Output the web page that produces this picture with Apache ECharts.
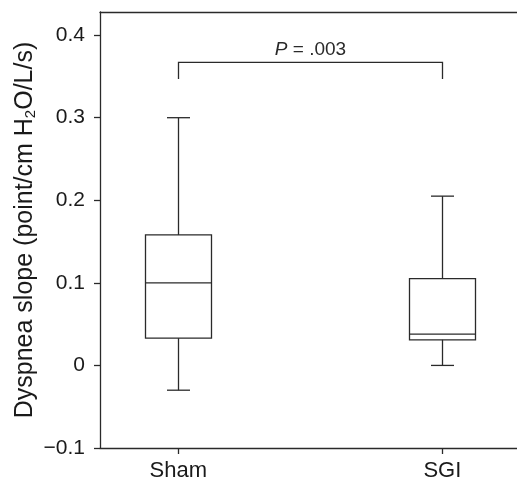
<!DOCTYPE html>
<html>
<head>
<meta charset="utf-8">
<script src="https://cdn.jsdelivr.net/npm/echarts@6/dist/echarts.min.js"></script>
<style>
html,body{margin:0;padding:0;background:#fff;}
#chart{width:517px;height:482px;}
</style>
</head>
<body>
<div id="chart"></div>
<script>
// ---- data ----
const categories = ['Sham', 'SGI'];
const positions = [1, 2];
const whiskerLow = [-0.03, 0.0];
const q1 = [0.033, 0.031];
const median = [0.100, 0.038];
const q3 = [0.158, 0.105];
const whiskerHigh = [0.300, 0.205];
const yTicks = [-0.1, 0, 0.1, 0.2, 0.3, 0.4];
const pValueText = '{i|P} = .003';
const bracketLevel = 0.367;
const bracketLegEnd = 0.347;

const FONT = '"Liberation Sans", Arial, Helvetica, sans-serif';
const INK = '#2a2a2a';

const boxData = positions.map((p, i) => [p, whiskerLow[i], q1[i], median[i], q3[i], whiskerHigh[i]]);

function renderBox(params, api) {
  const x = api.value(0);
  const lo = api.coord([x, api.value(1)]);
  const b1 = api.coord([x, api.value(2)]);
  const md = api.coord([x, api.value(3)]);
  const b3 = api.coord([x, api.value(4)]);
  const hi = api.coord([x, api.value(5)]);
  const cx = Math.round(lo[0]) + 0.5;
  const halfBox = 33, halfCap = 11.5;
  const st = {stroke: INK, lineWidth: 1.3, fill: null};
  return {
    type: 'group',
    children: [
      {type: 'rect', shape: {x: cx - halfBox, y: b3[1], width: 2 * halfBox, height: b1[1] - b3[1]}, style: {stroke: INK, lineWidth: 1.3, fill: '#fff'}},
      {type: 'line', shape: {x1: cx - halfBox, y1: md[1], x2: cx + halfBox, y2: md[1]}, style: st},
      {type: 'line', shape: {x1: cx, y1: b3[1], x2: cx, y2: hi[1]}, style: st},
      {type: 'line', shape: {x1: cx, y1: b1[1], x2: cx, y2: lo[1]}, style: st},
      {type: 'line', shape: {x1: cx - halfCap, y1: hi[1], x2: cx + halfCap, y2: hi[1]}, style: st},
      {type: 'line', shape: {x1: cx - halfCap, y1: lo[1], x2: cx + halfCap, y2: lo[1]}, style: st}
    ]
  };
}

function renderBracket(params, api) {
  const a = api.coord([positions[0], bracketLevel]);
  const b = api.coord([positions[1], bracketLevel]);
  const a2 = api.coord([positions[0], bracketLegEnd]);
  const b2 = api.coord([positions[1], bracketLegEnd]);
  const ax = Math.round(a[0]) + 0.5, bx = Math.round(b[0]) + 0.5;
  const st = {stroke: INK, lineWidth: 1.3, fill: null};
  return {
    type: 'group',
    children: [
      {type: 'polyline', shape: {points: [[ax, a2[1]], [ax, a[1]], [bx, b[1]], [bx, b2[1]]]}, style: st},
      {type: 'text', x: (ax + bx) / 2, y: a[1] - 3,
        style: {text: pValueText, align: 'center', verticalAlign: 'bottom', fill: INK,
          fontSize: 19, fontFamily: FONT,
          rich: {i: {fontStyle: 'italic', fontSize: 19, fontFamily: FONT, fill: INK}}}}
    ]
  };
}

const chart = echarts.init(document.getElementById('chart'), null, {renderer: 'canvas'});
chart.setOption({
  animation: false,
  backgroundColor: '#fff',
  grid: {left: 100, right: -2, top: 12, bottom: 33, containLabel: false},
  xAxis: [{
    type: 'value', min: 0.7034, max: 2.2827, position: 'bottom',
    splitLine: {show: false},
    axisLine: {show: true, onZero: false, lineStyle: {color: INK, width: 1.3}},
    axisTick: {show: true, length: 6, inside: false, customValues: positions, lineStyle: {color: INK, width: 1.3}},
    axisLabel: {customValues: positions, formatter: v => categories[positions.indexOf(Math.round(v))] || '',
      color: '#1a1a1a', fontSize: 22, fontFamily: FONT, margin: 12}
  }, {
    type: 'value', min: 0.7034, max: 2.2827, position: 'top',
    splitLine: {show: false},
    axisLine: {show: true, onZero: false, lineStyle: {color: INK, width: 1.3}},
    axisTick: {show: false}, axisLabel: {show: false}
  }],
  yAxis: {
    type: 'value', min: -0.1, max: 0.428,
    splitLine: {show: false},
    axisLine: {show: true, onZero: false, lineStyle: {color: INK, width: 1.3}},
    axisTick: {show: true, length: 6, customValues: yTicks, lineStyle: {color: INK, width: 1.3}},
    axisLabel: {customValues: yTicks, color: '#1a1a1a', fontSize: 21, fontFamily: FONT, margin: 15,
      formatter: v => {
        const r = Math.round(v * 10) / 10;
        if (r === 0) return '0';
        return (r < 0 ? '\u2212' : '') + Math.abs(r).toFixed(1);
      }},
    name: 'Dyspnea slope (point/cm H{sub|2}O/L/s)',
    nameLocation: 'middle', nameGap: 62, nameRotate: 90, nameMoveOverlap: false,
    nameTextStyle: {color: '#1a1a1a', fontSize: 25, fontFamily: FONT,
      rich: {sub: {fontSize: 15, fontFamily: FONT, color: '#1a1a1a', verticalAlign: 'bottom', padding: [11, 0, 0, 0]}}}
  },
  series: [
    {type: 'custom', renderItem: renderBox, data: boxData, encode: {x: 0, y: [1, 2, 3, 4, 5]}, z: 3},
    {type: 'custom', renderItem: renderBracket, data: [[positions[0], bracketLevel]], encode: {x: 0, y: 1}, z: 3}
  ]
});
</script>
</body>
</html>
